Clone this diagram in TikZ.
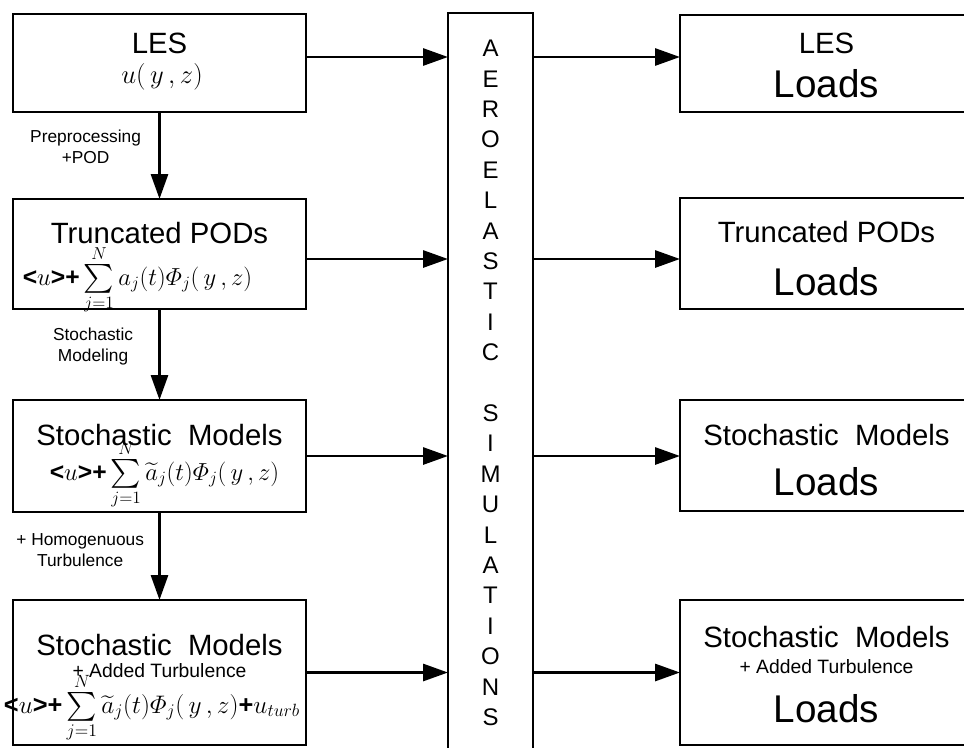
\RequirePackage{fix-cm}
\documentclass[tikz,border=0pt]{standalone}
\usepackage{amsmath}
\usepackage[no-math]{fontspec}
\setmainfont{Liberation Sans}
\usetikzlibrary{arrows.meta}

\newcommand{\setfs}[2]{\fontsize{#1}{#2}\selectfont}
% formula line: zero width, zero height, shifted by #1
\newcommand{\eqline}[2]{\makebox[0pt]{\hspace*{#1}\hspace*{#1}\smash{$#2$}}}
\newcommand{\bigsum}{\mathop{\vcenter{\hbox{\scalebox{1.25}{$\textstyle\sum$}}}}\limits}
\newcommand{\drawRowArrows}[3]{
	\coordinate (#1_AR) at ([yshift=#3]#1.east);
	\draw[arr] (#1_AR) -- (#1_AR -| sim.west);
	\draw[arr] (#1_AR -| sim.east) -- (#1_AR -| #2.west);
}

\begin{document}
\begin{tikzpicture}[x=0.75pt,y=-0.75pt,
	box/.style={draw, line width=2.2pt, minimum width=219.75pt, inner sep=0pt, outer sep=0pt, align=center, anchor=north},
	arr/.style={-{Triangle[length=18.75pt,width=12.75pt]}, line width=2.2pt},
	edgelabel/.style={font=\setfs{13}{15.5}, align=center, left, inner sep=0pt}]
	\useasboundingbox (0,0) rectangle (964,747);
	\fill[white] (0,0) rectangle (964,747);
	\clip (0,0) rectangle (964,747);

	% left column
	\node[box, text height=51.75pt, text depth=21.75pt, font=\setfs{22}{22.5}] (les) at (159.5,14)
		{LES\\{\setfs{20}{20}\eqline{1.9pt}{u(\,y\,,z)}}};
	\node[box, text height=64.5pt, text depth=18pt, font=\setfs{22}{31.5}] (pod) at (159.5,199)
		{Truncated PODs\\{\setfs{18.5}{18.5}\eqline{-16.5pt}{\textbf{<}u\textbf{>}\textbf{+}\bigsum_{j=1}^{N}a_j(t)\varPhi_j(\,y\,,z)}}};
	\node[box, text height=60pt, text depth=24pt, font=\setfs{22}{26.25}] (stoch) at (159.5,400)
		{Stochastic\ \ Models\\{\setfs{18.5}{18.5}\eqline{3.75pt}{\textbf{<}u\textbf{>}\textbf{+}\bigsum_{j=1}^{N}\widetilde{a}_j(t)\varPhi_j(\,y\,,z)}}};
	\node[box, text height=84.75pt, text depth=24pt, font=\setfs{22}{16.5}] (turb) at (159.5,600)
		{Stochastic\ \ Models\\{\setfs{14.5}{14.5}+ Added Turbulence}\\[10.5pt]{\setfs{19}{19}\eqline{-5.6pt}{\textbf{<}u\textbf{>}\textbf{+}\bigsum_{j=1}^{N}\widetilde{a}_j(t)\varPhi_j(\,y\,,z)\textbf{+}u_{turb}}}};

	% simulation column
	\node[box, minimum width=63.75pt, text height=534.4pt, text depth=21.4pt, font=\setfs{18}{22.8}] (sim) at (490.5,13)
		{A\\E\\R\\O\\E\\L\\A\\S\\T\\I\\C\\ \\S\\I\\M\\U\\L\\A\\T\\I\\O\\N\\S};

	% loads column
	\node[box, text height=61.5pt, text depth=11.25pt, font=\setfs{22}{33}] (lesload) at (826.5,15)
		{LES\\{\setfs{29}{29}Loads}};
	\node[box, text height=72.75pt, text depth=10.5pt, font=\setfs{22}{39.75}] (podload) at (826.5,198)
		{Truncated PODs\\{\setfs{29}{29}Loads}};
	\node[box, text height=71.25pt, text depth=12pt, font=\setfs{22}{37.5}] (stochload) at (826.5,400)
		{Stochastic\ \ Models\\{\setfs{29}{29}Loads}};
	\node[box, text height=91.5pt, text depth=17.25pt, font=\setfs{22}{19.5}] (turbload) at (826.5,600)
		{Stochastic\ \ Models\\{\setfs{14.5}{14.5}+ Added Turbulence}\\[14.25pt]{\setfs{29}{29}Loads}};

	% processing steps
	\draw[arr] (les.south) -- node[edgelabel, pos=0.40, xshift=-12.75pt] {Preprocessing\\+POD} (pod.north);
	\draw[arr] (pod.south) -- node[edgelabel, pos=0.41, xshift=-18.75pt] {Stochastic\\Modeling} (stoch.north);
	\draw[arr] (stoch.south) -- node[edgelabel, pos=0.43, xshift=-10.5pt] {+ Homogenuous\\Turbulence} (turb.north);

	% into and out of the simulations
	\drawRowArrows{les}{lesload}{4.5pt}
	\drawRowArrows{pod}{podload}{-3.75pt}
	\drawRowArrows{stoch}{stochload}{0pt}
	\drawRowArrows{turb}{turbload}{0pt}
\end{tikzpicture}
\end{document}
